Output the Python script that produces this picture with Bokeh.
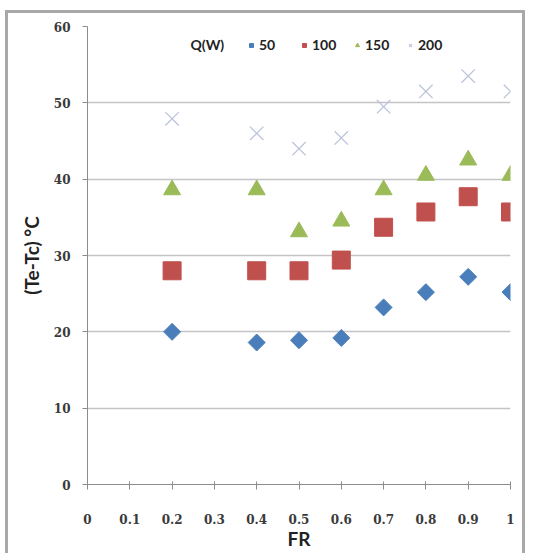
import math
from bokeh.plotting import figure
from bokeh.models import Legend, LegendItem, Label, FixedTicker, Range1d
from bokeh.embed import file_html
from bokeh.resources import INLINE

fr = [0.2, 0.4, 0.5, 0.6, 0.7, 0.8, 0.9, 1.0]
q50 = [20.0, 18.6, 18.9, 19.2, 23.2, 25.2, 27.2, 25.2]
q100 = [28.0, 28.0, 28.0, 29.4, 33.7, 35.7, 37.7, 35.7]
q150 = [38.6, 38.6, 33.1, 34.5, 38.6, 40.5, 42.5, 40.5]
q200 = [47.9, 46.0, 44.0, 45.4, 49.5, 51.5, 53.5, 51.5]
x_ticks = [0, 0.1, 0.2, 0.3, 0.4, 0.5, 0.6, 0.7, 0.8, 0.9, 1]
x_labels = ["0", "0.1", "0.2", "0.3", "0.4", "0.5", "0.6", "0.7", "0.8", "0.9", "1"]
y_ticks = [0, 10, 20, 30, 40, 50, 60]

p = figure(width=520, height=543, output_backend="svg", toolbar_location=None,
           x_range=Range1d(0, 1), y_range=Range1d(0, 60),
           min_border_left=79, min_border_right=18, min_border_top=13, min_border_bottom=72,
           styles={"border": "3px solid #a8a8a8", "border-bottom": "none",
                   "margin-left": "5px", "margin-top": "10px"})
p.outline_line_color = None
p.xgrid.grid_line_color = None
p.ygrid.grid_line_color = "#c4c4c4"
p.ygrid.grid_line_width = 1.5
p.ygrid.ticker = FixedTicker(ticks=y_ticks)

p.xaxis.ticker = FixedTicker(ticks=x_ticks)
p.xaxis.major_label_overrides = {t: l for t, l in zip(x_ticks, x_labels)}
p.yaxis.ticker = FixedTicker(ticks=y_ticks)
for ax in (p.xaxis[0], p.yaxis[0]):
    ax.axis_line_color = "#8c8c8c"
    ax.major_tick_line_color = "#8c8c8c"
    ax.minor_tick_line_color = None
    ax.major_label_text_font = "DejaVu Serif"
    ax.major_label_text_font_style = "bold"
    ax.major_label_text_font_size = "12px"
    ax.major_label_text_color = "#3a3a3a"
    ax.axis_label_text_font = "Lato"
    ax.axis_label_text_font_style = "bold"
    ax.axis_label_text_font_size = "19px"
    ax.axis_label_text_color = "#222222"
p.xaxis.major_tick_in = 3
p.xaxis.major_tick_out = 5
p.xaxis.major_label_standoff = 24
p.xaxis.axis_label = "FR"
p.xaxis.axis_label_standoff = 0
p.yaxis.major_tick_in = 0
p.yaxis.major_tick_out = 5
p.yaxis.major_label_standoff = 12
p.yaxis.axis_label = "(Te-Tc) °C"
p.yaxis.axis_label_standoff = 8

r1 = p.scatter(fr, q50, marker="square", angle=math.pi / 4, size=12, color="#4a7ebb")
r2 = p.scatter(fr, q100, marker="square", size=18, color="#c0504d")
r3 = p.scatter(fr, q150, marker="triangle", size=17, color="#9bbb59")
r4 = p.scatter(fr, q200, marker="x", size=19, line_color="#bcc3dc", line_width=1.3)

legend = Legend(items=[LegendItem(label="50", renderers=[r1]),
                       LegendItem(label="100", renderers=[r2]),
                       LegendItem(label="150", renderers=[r3]),
                       LegendItem(label="200", renderers=[r4])],
                orientation="horizontal", location=(159, 431),
                background_fill_alpha=0, border_line_color=None,
                glyph_width=10, glyph_height=10, label_width=29, label_height=14,
                label_standoff=3, spacing=11, padding=2, margin=0,
                label_text_font="Lato", label_text_font_style="bold",
                label_text_font_size="14px", label_text_color="#222222")
p.add_layout(legend, "center")

p.add_layout(Label(x=103, y=440, x_units="screen", y_units="screen", text="Q(W)",
                   text_font="Lato", text_font_style="bold", text_font_size="14px",
                   text_color="#222222", text_baseline="middle"))

open("out.html", "w").write(file_html(p, INLINE))
